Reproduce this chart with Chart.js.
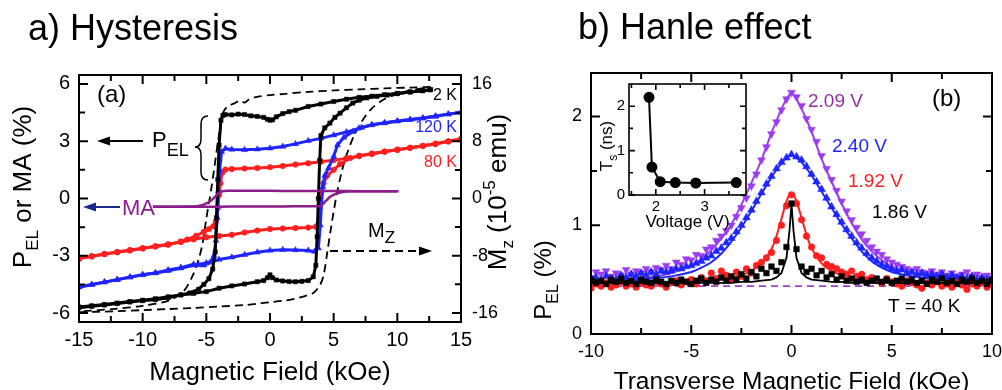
<!DOCTYPE html>
<html>
<head>
<meta charset="utf-8">
<script src="https://cdn.jsdelivr.net/npm/chart.js@4.4.1/dist/chart.umd.min.js"></script>
<style>
  html, body { margin: 0; padding: 0; background: #fff; }
  body { width: 1002px; height: 390px; position: relative; overflow: hidden; }
  canvas { position: absolute; }
  #hyst { left: 0; top: 0; }
  #hanle { left: 520px; top: 0; }
  #inset { left: 590px; top: 76px; }
</style>
</head>
<body>
<canvas id="hyst" width="520" height="390"></canvas>
<canvas id="hanle" width="482" height="390"></canvas>
<canvas id="inset" width="165" height="160"></canvas>
<script>
// ---- a) hysteresis loops (field in kOe, P_EL / MA in %, Mz in 1e-5 emu) ----
const blackDownField = [12.6, 12, 11, 10, 9, 8, 7, 6, 5, 4, 3, 2, 1.5, 1, 0.5, 0.2, 0, -0.2, -0.5, -1, -1.5, -2, -2.5, -3, -3.5, -3.7, -3.85, -4.0, -4.1, -4.2, -4.3, -4.5, -4.8, -5.2, -5.6, -6.3, -7, -8, -9, -10, -11, -12, -13, -14, -15];
const blackDown = [5.7, 5.65, 5.58, 5.5, 5.44, 5.36, 5.3, 5.2, 5.08, 4.95, 4.82, 4.62, 4.55, 4.45, 4.28, 4.12, 4.1, 4.15, 4.25, 4.3, 4.33, 4.4, 4.42, 4.38, 4.4, 4.35, 4.1, 2.8, 1.0, -1.0, -2.8, -3.7, -4.2, -4.5, -4.75, -4.95, -5.05, -5.2, -5.3, -5.35, -5.42, -5.5, -5.58, -5.65, -5.72];
const blackUpField = [-15, -14, -13, -12, -11, -10, -9, -8, -7, -6, -5, -4, -3, -2, -1, -0.5, -0.2, 0, 0.2, 0.5, 1, 1.5, 2, 2.5, 3, 3.4, 3.6, 3.7, 3.8, 3.9, 4.0, 4.3, 4.7, 5.1, 5.5, 6, 6.5, 7, 7.6, 8.4, 9.2, 10, 11, 12, 12.6];
const blackUp = [-5.68, -5.62, -5.55, -5.48, -5.4, -5.33, -5.25, -5.15, -5.05, -4.97, -4.88, -4.7, -4.58, -4.48, -4.36, -4.3, -4.15, -4.0, -4.15, -4.27, -4.32, -4.35, -4.36, -4.34, -4.3, -4.1, -3.5, -2.0, 0.0, 2.0, 3.3, 3.7, 3.95, 4.25, 4.47, 4.75, 5.0, 5.15, 5.27, 5.35, 5.42, 5.5, 5.58, 5.65, 5.7];

const blueDownField = [15, 14, 13, 12, 11, 10, 9, 8, 7, 6, 5, 4, 3, 2, 1, 0, -1, -2, -3, -3.5, -3.8, -3.95, -4.05, -4.15, -4.25, -4.4, -4.7, -5.2, -5.6, -6, -7, -8, -9, -10, -11, -12, -13, -14, -15];
const blueDown = [4.5, 4.42, 4.3, 4.2, 4.12, 4.05, 3.95, 3.85, 3.68, 3.48, 3.32, 3.15, 3.02, 2.86, 2.72, 2.63, 2.58, 2.55, 2.57, 2.62, 2.45, 1.5, 0.4, -1.0, -2.2, -3.0, -3.35, -3.5, -3.48, -3.45, -3.62, -3.75, -3.9, -4.0, -4.12, -4.25, -4.38, -4.5, -4.62];
const blueUpField = [-15, -14, -13, -12, -11, -10, -9, -8, -7, -6, -5, -4, -3, -2, -1, 0, 1, 2, 3, 3.5, 3.8, 3.95, 4.05, 4.15, 4.3, 4.6, 5.0, 5.3, 5.8, 6.5, 7.2, 8, 9, 10, 11, 12, 13, 14, 15];
const blueUp = [-4.65, -4.52, -4.38, -4.26, -4.12, -4.0, -3.9, -3.78, -3.65, -3.5, -3.38, -3.2, -3.08, -2.95, -2.82, -2.72, -2.68, -2.7, -2.72, -2.78, -2.6, -1.4, -0.2, 0.6, 1.2, 1.6, 2.2, 2.8, 3.2, 3.5, 3.72, 3.87, 3.97, 4.06, 4.14, 4.22, 4.32, 4.42, 4.52];

const redDownField = [15, 14, 13, 12, 11, 10, 9, 8, 7, 6, 5, 4, 3, 2, 1, 0, -1, -2, -3, -3.5, -3.75, -3.9, -4.0, -4.1, -4.25, -4.45, -4.8, -5.2, -5.8, -6.5, -7, -8, -9, -10, -11, -12, -13, -14, -15];
const redDown = [3.12, 2.98, 2.85, 2.75, 2.65, 2.55, 2.45, 2.33, 2.22, 2.1, 2.01, 1.93, 1.85, 1.78, 1.7, 1.64, 1.6, 1.57, 1.54, 1.52, 1.35, 0.8, 0.2, -0.5, -1.2, -1.45, -1.6, -1.75, -1.95, -2.15, -2.25, -2.42, -2.52, -2.62, -2.72, -2.82, -2.92, -3.03, -3.15];
const redUpField = [-15, -14, -13, -12, -11, -10, -9, -8, -7, -6, -5, -4, -3, -2, -1, 0, 1, 2, 3, 3.6, 3.8, 3.9, 4.0, 4.2, 4.5, 5.0, 5.5, 6.3, 7, 8, 9, 10, 11, 12, 13, 14, 15];
const redUp = [-3.15, -3.03, -2.9, -2.8, -2.7, -2.6, -2.5, -2.4, -2.28, -2.14, -2.03, -1.97, -1.9, -1.78, -1.68, -1.6, -1.57, -1.55, -1.52, -1.48, -1.35, -0.5, 0.3, 0.8, 1.2, 1.5, 1.8, 2.12, 2.24, 2.36, 2.46, 2.56, 2.66, 2.76, 2.88, 3.0, 3.12];

const maDownField = [10, 8, 6, 4, 2, 0, -2, -3.3, -3.6, -3.85, -4.05, -4.25, -4.45, -4.7, -5.0, -5.35, -5.7, -6.2, -7, -8, -9.2];
const maDown = [0.38, 0.38, 0.39, 0.39, 0.39, 0.4, 0.4, 0.4, 0.39, 0.35, 0.27, 0.14, 0.0, -0.14, -0.26, -0.35, -0.4, -0.42, -0.43, -0.43, -0.43];
const maUpField = [-9.2, -8, -6, -4, -2, 0, 2, 3.5, 3.9, 4.05, 4.19, 4.45, 4.72, 5.0, 5.24, 5.6, 6.03, 7, 8, 9, 10.1];
const maUp = [-0.43, -0.43, -0.43, -0.43, -0.42, -0.42, -0.41, -0.41, -0.4, -0.36, -0.26, -0.08, 0.09, 0.19, 0.26, 0.33, 0.37, 0.38, 0.38, 0.38, 0.38];

const mzDownField = [12.6, 11, 9, 7, 5, 3, 1, 0, -1, -1.6, -2.0, -2.3, -2.8, -3.3, -3.6, -3.8, -4.0, -4.2, -4.6, -5.0, -5.3, -5.6, -6.0, -6.8, -8.0, -10, -12, -15];
const mzDown = [15.6, 15.5, 15.4, 15.25, 15.1, 14.9, 14.6, 14.45, 14.2, 13.9, 13.4, 13.7, 13.3, 12.9, 12.3, 11.5, 9.0, 6.5, 1.5, -2.8, -6.3, -8.5, -10.5, -13.0, -14.3, -15.0, -15.4, -15.8];
const mzUpField = [-15, -12, -10, -8, -6, -4, -2, -1, 0, 1, 2, 2.8, 3.4, 3.9, 4.2, 4.5, 4.8, 5.2, 5.6, 6.0, 6.6, 7.3, 8.0, 9.0, 10.0, 11.0, 12.6];
const mzUp = [-15.9, -15.75, -15.6, -15.45, -15.3, -15.1, -14.9, -14.7, -14.5, -14.3, -14.0, -13.6, -13.2, -12.2, -10.8, -7.5, -4.0, 0.2, 3.5, 6.0, 8.8, 11.0, 12.6, 13.9, 14.6, 15.1, 15.6];

const fieldTicksA = [-15, -10, -5, 0, 5, 10, 15];
const fieldMinorA = [-12.5, -7.5, -2.5, 2.5, 7.5, 12.5];
const pelTicks = [-6, -3, 0, 3, 6];
const pelMinor = [-4.5, -1.5, 1.5, 4.5];
const mzTicks = [-16, -8, 0, 8, 16];
const mzMinor = [-12, -4, 4, 12];
const tempLabels = ['2 K', '120 K', '80 K'];

// ---- b) Hanle curves at 40 K (transverse field in kOe, P_EL in %) ----
const fieldB = [-10, -9.75, -9.5, -9.25, -9, -8.75, -8.5, -8.25, -8,
  -7.75, -7.5, -7.25, -7, -6.75, -6.5, -6.25, -6, -5.75,
  -5.5, -5.25, -5, -4.75, -4.5, -4.25, -4, -3.75, -3.5,
  -3.25, -3, -2.75, -2.5, -2.25, -2, -1.75, -1.5, -1.25,
  -1, -0.75, -0.5, -0.25, 0, 0.25, 0.5, 0.75, 1,
  1.25, 1.5, 1.75, 2, 2.25, 2.5, 2.75, 3, 3.25,
  3.5, 3.75, 4, 4.25, 4.5, 4.75, 5, 5.25, 5.5,
  5.75, 6, 6.25, 6.5, 6.75, 7, 7.25, 7.5, 7.75,
  8, 8.25, 8.5, 8.75, 9, 9.25, 9.5, 9.75, 10];
const pel209 = [0.52, 0.57, 0.55, 0.58, 0.53, 0.56, 0.54, 0.59, 0.55,
  0.58, 0.56, 0.60, 0.57, 0.61, 0.59, 0.63, 0.60, 0.66,
  0.64, 0.69, 0.68, 0.73, 0.72, 0.78, 0.80, 0.86, 0.90,
  0.95, 1.00, 1.08, 1.16, 1.25, 1.36, 1.47, 1.60, 1.72,
  1.84, 1.95, 2.06, 2.16, 2.22, 2.18, 2.10, 1.98, 1.88,
  1.77, 1.64, 1.52, 1.42, 1.32, 1.22, 1.13, 1.05, 0.98,
  0.92, 0.86, 0.80, 0.76, 0.73, 0.69, 0.66, 0.64, 0.62,
  0.60, 0.58, 0.60, 0.57, 0.56, 0.58, 0.55, 0.57, 0.54,
  0.56, 0.53, 0.55, 0.57, 0.53, 0.55, 0.52, 0.54, 0.51];
const pel240 = [0.50, 0.52, 0.49, 0.53, 0.51, 0.50, 0.54, 0.52, 0.55,
  0.53, 0.56, 0.54, 0.57, 0.55, 0.58, 0.57, 0.58, 0.60,
  0.60, 0.62, 0.63, 0.65, 0.67, 0.70, 0.72, 0.76, 0.79,
  0.84, 0.88, 0.94, 1.00, 1.07, 1.14, 1.22, 1.30, 1.38,
  1.45, 1.52, 1.58, 1.62, 1.65, 1.63, 1.60, 1.54, 1.47,
  1.40, 1.33, 1.25, 1.17, 1.10, 1.03, 0.96, 0.90, 0.84,
  0.79, 0.74, 0.70, 0.67, 0.64, 0.62, 0.60, 0.58, 0.59,
  0.56, 0.57, 0.55, 0.56, 0.54, 0.55, 0.53, 0.55, 0.52,
  0.54, 0.52, 0.53, 0.51, 0.53, 0.50, 0.52, 0.50, 0.51];
const pel192 = [0.42, 0.46, 0.44, 0.47, 0.43, 0.45, 0.48, 0.44, 0.46,
  0.43, 0.47, 0.45, 0.44, 0.48, 0.46, 0.43, 0.47, 0.49,
  0.45, 0.48, 0.50, 0.46, 0.52, 0.49, 0.56, 0.51, 0.58,
  0.54, 0.50, 0.57, 0.53, 0.60, 0.56, 0.63, 0.66, 0.70,
  0.75, 0.86, 1.00, 1.18, 1.28, 1.20, 1.05, 0.90, 0.80,
  0.72, 0.70, 0.64, 0.62, 0.60, 0.57, 0.55, 0.58, 0.53,
  0.55, 0.50, 0.52, 0.49, 0.47, 0.51, 0.48, 0.46, 0.44,
  0.49, 0.47, 0.45, 0.42, 0.47, 0.45, 0.48, 0.44, 0.46,
  0.43, 0.47, 0.45, 0.41, 0.46, 0.44, 0.47, 0.43, 0.45];
const pel186 = [0.50, 0.47, 0.49, 0.46, 0.50, 0.48, 0.51, 0.47, 0.49,
  0.46, 0.50, 0.48, 0.47, 0.50, 0.48, 0.46, 0.49, 0.47,
  0.50, 0.48, 0.46, 0.49, 0.51, 0.47, 0.50, 0.48, 0.52,
  0.49, 0.53, 0.50, 0.55, 0.51, 0.57, 0.53, 0.60, 0.56,
  0.62, 0.58, 0.66, 0.80, 1.20, 0.78, 0.62, 0.57, 0.60,
  0.54, 0.58, 0.52, 0.55, 0.50, 0.53, 0.49, 0.51, 0.48,
  0.50, 0.47, 0.49, 0.51, 0.48, 0.50, 0.47, 0.49, 0.51,
  0.48, 0.50, 0.47, 0.49, 0.46, 0.50, 0.48, 0.51, 0.47,
  0.49, 0.46, 0.50, 0.48, 0.51, 0.47, 0.49, 0.46, 0.50];

// fitted curves
const fitFieldB = [-10, -9, -8, -7, -6, -5, -4.5, -4, -3.5, -3, -2.5, -2, -1.5, -1, -0.75, -0.5, -0.25, -0.1, 0, 0.1, 0.25, 0.5, 0.75, 1, 1.5, 2, 2.5, 3, 3.5, 4, 4.5, 5, 6, 7, 8, 9, 10];
const fit209 = [0.47, 0.48, 0.50, 0.52, 0.56, 0.63, 0.69, 0.77, 0.88, 1.01, 1.19, 1.39, 1.60, 1.85, 1.96, 2.07, 2.16, 2.20, 2.21, 2.20, 2.16, 2.07, 1.97, 1.86, 1.61, 1.40, 1.20, 1.02, 0.87, 0.76, 0.68, 0.62, 0.56, 0.53, 0.51, 0.49, 0.48];
const fit240 = [0.47, 0.48, 0.49, 0.51, 0.53, 0.57, 0.61, 0.66, 0.74, 0.85, 0.98, 1.13, 1.29, 1.44, 1.51, 1.57, 1.62, 1.64, 1.64, 1.64, 1.62, 1.58, 1.52, 1.46, 1.31, 1.16, 1.01, 0.88, 0.76, 0.67, 0.61, 0.57, 0.53, 0.51, 0.50, 0.49, 0.48];
const fit192 = [0.46, 0.46, 0.46, 0.47, 0.47, 0.48, 0.48, 0.49, 0.50, 0.52, 0.54, 0.58, 0.65, 0.78, 0.90, 1.06, 1.22, 1.28, 1.29, 1.28, 1.22, 1.07, 0.91, 0.79, 0.65, 0.58, 0.54, 0.52, 0.50, 0.49, 0.48, 0.48, 0.47, 0.47, 0.46, 0.46, 0.46];
const fit186 = [0.47, 0.47, 0.47, 0.47, 0.47, 0.47, 0.47, 0.47, 0.47, 0.47, 0.48, 0.48, 0.49, 0.50, 0.52, 0.56, 0.70, 0.95, 1.20, 0.95, 0.70, 0.56, 0.52, 0.50, 0.49, 0.48, 0.48, 0.47, 0.47, 0.47, 0.47, 0.47, 0.47, 0.47, 0.47, 0.47, 0.47];
const baseField = [-10, 10];
const baseLevel = [0.44, 0.44];

const fieldTicksB = [-10, -5, 0, 5, 10];
const fieldMinorB = [-7.5, -2.5, 2.5, 7.5];
const pelTicksB = [0, 1, 2];
const pelMinorB = [0.5, 1.5];

// inset: spin lifetime vs bias voltage
const voltage = [1.86, 1.92, 2.09, 2.40, 2.82, 3.65];
const tauS = [2.2, 0.63, 0.3, 0.28, 0.27, 0.28];
const voltTicks = [2, 3];
const voltMinor = [1.5, 2.5, 3.5];
const tauTicks = [0, 1, 2];
const tauMinor = [0.5, 1.5];

const FONT = '"Liberation Sans", Arial, Helvetica, sans-serif';
Chart.defaults.font.family = FONT;
Chart.defaults.color = '#000';

const PURPLE = '#9c3cf0', PURPLE_TXT = '#93309f', MA_COL = '#8a1c8c';
const BLUE = '#1f25ff', RED = '#ff1f1f', NAVY = '#1b2a8c';

function pts(xs, ys) { return xs.map((x, i) => ({ x: x, y: ys[i] })); }

// text made of runs: [string, size, baseline shift]
function richText(ctx, parts, x, y, align, rotate, color) {
  ctx.save();
  ctx.translate(x, y);
  if (rotate) ctx.rotate(-Math.PI / 2);
  ctx.fillStyle = color || '#000';
  ctx.textBaseline = 'alphabetic';
  ctx.textAlign = 'left';
  let total = 0;
  parts.forEach(p => { ctx.font = p[1] + 'px ' + FONT; total += ctx.measureText(p[0]).width; });
  let cx = align === 'center' ? -total / 2 : (align === 'right' ? -total : 0);
  parts.forEach(p => {
    ctx.font = p[1] + 'px ' + FONT;
    ctx.fillText(p[0], cx, p[2] || 0);
    cx += ctx.measureText(p[0]).width;
  });
  ctx.restore();
}

// box around the plot with inward ticks on all four sides
function drawFrame(chart, lw, major, minor, xs, yl, yr) {
  const ctx = chart.ctx, a = chart.chartArea;
  ctx.save();
  ctx.strokeStyle = '#000';
  ctx.lineWidth = lw;
  ctx.beginPath();
  [[xs[1], major], [xs[2], minor]].forEach(([vals, len]) => vals.forEach(v => {
    const px = chart.scales[xs[0]].getPixelForValue(v);
    ctx.moveTo(px, a.bottom); ctx.lineTo(px, a.bottom - len);
    ctx.moveTo(px, a.top); ctx.lineTo(px, a.top + len);
  }));
  [[yl[1], major], [yl[2], minor]].forEach(([vals, len]) => vals.forEach(v => {
    const py = chart.scales[yl[0]].getPixelForValue(v);
    ctx.moveTo(a.left, py); ctx.lineTo(a.left + len, py);
  }));
  [[yr[1], major], [yr[2], minor]].forEach(([vals, len]) => vals.forEach(v => {
    const py = chart.scales[yr[0]].getPixelForValue(v);
    ctx.moveTo(a.right, py); ctx.lineTo(a.right - len, py);
  }));
  ctx.stroke();
  ctx.strokeRect(a.left, a.top, a.right - a.left, a.bottom - a.top);
  ctx.restore();
}

function arrow(ctx, x1, y, x2, color, dash) {
  const dir = Math.sign(x2 - x1);
  ctx.save();
  ctx.strokeStyle = color;
  ctx.fillStyle = color;
  ctx.lineWidth = 2;
  ctx.setLineDash(dash || []);
  ctx.beginPath(); ctx.moveTo(x1, y); ctx.lineTo(x2 - dir * 9, y); ctx.stroke();
  ctx.setLineDash([]);
  ctx.beginPath();
  ctx.moveTo(x2, y); ctx.lineTo(x2 - dir * 13, y - 4.5); ctx.lineTo(x2 - dir * 13, y + 4.5);
  ctx.closePath(); ctx.fill();
  ctx.restore();
}

function axisX(min, max, ticks, size, pad, height) {
  return {
    type: 'linear', min: min, max: max, position: 'bottom',
    afterBuildTicks: s => { s.ticks = ticks.map(v => ({ value: v })); },
    ticks: { font: { size: size }, padding: pad, maxRotation: 0, autoSkip: false, callback: v => String(v) },
    grid: { display: false, drawTicks: false }, border: { display: false },
    afterFit: s => { s.height = height; s.paddingLeft = 0; s.paddingRight = 0; }
  };
}
function axisY(min, max, ticks, size, pad, width, side) {
  return {
    type: 'linear', min: min, max: max, position: side,
    afterBuildTicks: s => { s.ticks = ticks.map(v => ({ value: v })); },
    ticks: { font: { size: size }, padding: pad, autoSkip: false, callback: v => String(v) },
    grid: { display: false, drawTicks: false }, border: { display: false },
    afterFit: s => { s.width = width; s.paddingTop = 0; s.paddingBottom = 0; }
  };
}

function loop(xs, ys, color, style, radius, axis) {
  return {
    data: pts(xs, ys), showLine: true, borderColor: color, backgroundColor: color,
    borderWidth: 3, pointStyle: style, pointRadius: radius, pointBorderWidth: 0.5,
    pointHoverRadius: radius, yAxisID: axis || 'y'
  };
}
function curve(xs, ys, color, width, dash, axis, tension) {
  return {
    data: pts(xs, ys), showLine: true, borderColor: color, backgroundColor: color,
    borderWidth: width, borderDash: dash || [], pointRadius: 0, yAxisID: axis || 'y',
    tension: tension == null ? 0.3 : tension
  };
}
function marks(xs, ys, color, style, radius, rotation) {
  return {
    data: pts(xs, ys), showLine: false, borderColor: color, backgroundColor: color,
    pointStyle: style, pointRadius: radius, pointBorderWidth: 0.5, rotation: rotation || 0
  };
}

// ---------------- panel a ----------------
const hystDecor = {
  id: 'hystDecor',
  afterDraw(chart) {
    const ctx = chart.ctx;
    drawFrame(chart, 2, 9, 6, ['x', fieldTicksA, fieldMinorA], ['y', pelTicks, pelMinor], ['y2', mzTicks, mzMinor]);
    richText(ctx, [['a) Hysteresis', 36]], 28, 40, 'left');
    richText(ctx, [['Magnetic Field (kOe)', 26]], 270, 380, 'center');
    richText(ctx, [['P', 26], ['EL', 17, 7], [' or MA (%)', 26]], 31, 187, 'center', true);
    richText(ctx, [['M', 26], ['z', 17, 7], [' (10', 26], ['-5', 17, -11], [' emu)', 26]], 506, 192, 'center', true);
    richText(ctx, [['(a)', 24]], 97, 102, 'left');
    richText(ctx, [[tempLabels[0], 16]], 457, 100, 'right', false, '#000');
    richText(ctx, [[tempLabels[1], 16]], 457, 132, 'right', false, BLUE);
    richText(ctx, [[tempLabels[2], 16]], 457, 167, 'right', false, RED);
    // P_EL pointer and brace
    arrow(ctx, 143, 141, 97, '#000');
    richText(ctx, [['P', 22], ['EL', 18, 9]], 152, 147, 'left');
    ctx.save();
    ctx.strokeStyle = '#000';
    ctx.lineWidth = 1.5;
    ctx.beginPath();
    ctx.moveTo(208, 116);
    ctx.quadraticCurveTo(201, 116, 201, 124);
    ctx.lineTo(201, 139);
    ctx.quadraticCurveTo(201, 147, 195, 147);
    ctx.quadraticCurveTo(201, 147, 201, 155);
    ctx.lineTo(201, 172);
    ctx.quadraticCurveTo(201, 180, 208, 180);
    ctx.stroke();
    ctx.restore();
    // MA pointer
    arrow(ctx, 120, 207, 83, NAVY);
    richText(ctx, [['MA', 22]], 122, 215, 'left', false, MA_COL);
    // Mz pointer
    richText(ctx, [['M', 20], ['Z', 17, 6]], 368, 237, 'left');
    arrow(ctx, 330, 251, 432, '#000', [8, 5]);
  }
};

new Chart(document.getElementById('hyst'), {
  type: 'scatter',
  data: {
    datasets: [
      curve(maDownField, maDown, MA_COL, 2.5),
      curve(maUpField, maUp, MA_COL, 2.5),
      loop(blackDownField, blackDown, '#000', 'rect', 3),
      loop(blackUpField, blackUp, '#000', 'rect', 3),
      loop(blueDownField, blueDown, BLUE, 'triangle', 3.5),
      loop(blueUpField, blueUp, BLUE, 'triangle', 3.5),
      loop(redDownField, redDown, RED, 'circle', 2.8),
      loop(redUpField, redUp, RED, 'circle', 2.8),
      curve(mzDownField, mzDown, '#000', 1.8, [8, 5], 'y2'),
      curve(mzUpField, mzUp, '#000', 1.8, [8, 5], 'y2')
    ]
  },
  options: {
    responsive: false, animation: false, devicePixelRatio: 1,
    layout: { padding: { top: 75, left: 0, right: 0, bottom: 0 } },
    plugins: { legend: { display: false }, tooltip: { enabled: false } },
    scales: {
      x: axisX(-15, 15, fieldTicksA, 20, 6, 68),
      y: axisY(-6.47, 6.47, pelTicks, 20, 9, 79, 'left'),
      y2: axisY(-17.26, 17.26, mzTicks, 18, 11, 59, 'right')
    }
  },
  plugins: [hystDecor]
});

// ---------------- panel b ----------------
const hanleDecor = {
  id: 'hanleDecor',
  afterDraw(chart) {
    const ctx = chart.ctx;
    drawFrame(chart, 2, 9, 6, ['x', fieldTicksB, fieldMinorB], ['y', pelTicksB, pelMinorB], ['y', pelTicksB, pelMinorB]);
    richText(ctx, [['b) Hanle effect', 36]], 58, 39, 'left');
    richText(ctx, [['Transverse Magnetic Field (kOe)', 24.5]], 271.5, 389, 'center');
    richText(ctx, [['P', 24], ['EL', 16, 7], [' (%)', 24]], 31, 280, 'center', true);
    richText(ctx, [['(b)', 24]], 412, 106, 'left');
    richText(ctx, [[voltage[2].toFixed(2) + ' V', 19]], 288, 107, 'left', false, PURPLE_TXT);
    richText(ctx, [[voltage[3].toFixed(2) + ' V', 19]], 312, 152, 'left', false, BLUE);
    richText(ctx, [[voltage[1].toFixed(2) + ' V', 19]], 328, 187, 'left', false, RED);
    richText(ctx, [[voltage[0].toFixed(2) + ' V', 19]], 352, 218, 'left', false, '#000');
    richText(ctx, [['T = 40 K', 19]], 368, 312, 'left');
  }
};

new Chart(document.getElementById('hanle'), {
  type: 'scatter',
  data: {
    datasets: [
      curve(fitFieldB, fit186, '#000', 1.8, null, 'y', 0),
      marks(fieldB, pel186, '#000', 'rect', 4),
      curve(fitFieldB, fit192, RED, 2, null, 'y', 0.3),
      marks(fieldB, pel192, RED, 'circle', 3.3),
      curve(fitFieldB, fit240, BLUE, 2, null, 'y', 0.3),
      marks(fieldB, pel240, BLUE, 'triangle', 4.5),
      curve(fitFieldB, fit209, PURPLE, 2, null, 'y', 0.3),
      marks(fieldB, pel209, PURPLE, 'triangle', 4.5, 180),
      curve(baseField, baseLevel, '#a040c8', 1.6, [7, 5], 'y', 0)
    ]
  },
  options: {
    responsive: false, animation: false, devicePixelRatio: 1,
    layout: { padding: { top: 73, left: 0, right: 10, bottom: 0 } },
    plugins: { legend: { display: false }, tooltip: { enabled: false } },
    scales: {
      x: axisX(-10, 10, fieldTicksB, 18, 7, 56),
      y: axisY(0, 2.4, pelTicksB, 18, 9, 71, 'left')
    }
  },
  plugins: [hanleDecor]
});

// ---------------- inset ----------------
const insetDecor = {
  id: 'insetDecor',
  beforeDatasetsDraw(chart) {
    const a = chart.chartArea, ctx = chart.ctx;
    ctx.save();
    ctx.fillStyle = '#fff';
    ctx.fillRect(a.left, a.top, a.right - a.left, a.bottom - a.top);
    ctx.restore();
  },
  afterDraw(chart) {
    const ctx = chart.ctx;
    drawFrame(chart, 1.6, 6, 4, ['x', voltTicks, voltMinor], ['y', tauTicks, tauMinor], ['y', tauTicks, tauMinor]);
    richText(ctx, [['Voltage (V)', 17]], 97.5, 151, 'center');
    richText(ctx, [['T', 17], ['s', 12, 5], [' (ns)', 17]], 22, 70, 'center', true);
  }
};

new Chart(document.getElementById('inset'), {
  type: 'scatter',
  data: {
    datasets: [{
      data: pts(voltage, tauS), showLine: true, borderColor: '#000', backgroundColor: '#000',
      borderWidth: 2, pointRadius: 4.5, pointStyle: 'circle', tension: 0
    }]
  },
  options: {
    responsive: false, animation: false, devicePixelRatio: 1,
    layout: { padding: { top: 8, left: 0, right: 9, bottom: 0 } },
    plugins: { legend: { display: false }, tooltip: { enabled: false } },
    scales: {
      x: axisX(1.45, 3.85, voltTicks, 15, 3, 41),
      y: axisY(0, 2.5, tauTicks, 15, 4, 39, 'left')
    }
  },
  plugins: [insetDecor]
});
</script>
</body>
</html>
